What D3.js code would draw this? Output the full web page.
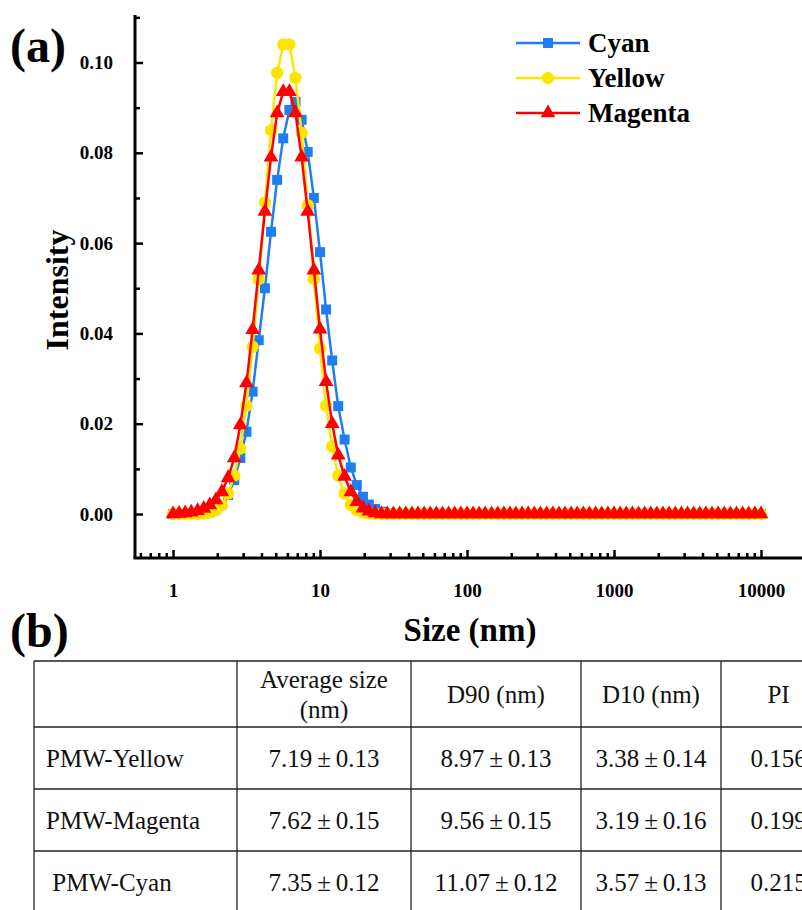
<!DOCTYPE html>
<html lang="en">
<head>
<meta charset="UTF-8">
<title>Size distribution (a) and table (b)</title>
<style>
    body { margin: 0; background: #fff; }
    svg { display: block; }
    .serif { font-family: "Liberation Serif", "Times New Roman", serif; }
    .bold { font-weight: bold; }
</style>
</head>
<body>
<svg id="chart" width="802" height="910"></svg>
<script src="https://d3js.org/d3.v7.min.js"></script>
<script>
// sizes (nm), instrument bins, 24 per decade
var sizes = [
    1.00, 1.10, 1.21, 1.33, 1.47, 1.62, 1.78, 1.96, 2.15, 2.37, 2.61, 2.87, 3.16, 3.48, 3.83, 4.22, 4.64, 5.11, 5.62, 6.19, 6.81, 7.50, 8.25, 9.09,
    10.0, 11.0, 12.1, 13.3, 14.7, 16.2, 17.8, 19.6, 21.5, 23.7, 26.1, 28.7, 31.6, 34.8, 38.3, 42.2, 46.4, 51.1, 56.2, 61.9, 68.1, 75.0, 82.5, 90.9,
    100, 110, 121, 133, 147, 162, 178, 196, 215, 237, 261, 287, 316, 348, 383, 422, 464, 511, 562, 619, 681, 750, 825, 909,
    1000, 1101, 1212, 1334, 1468, 1616, 1778, 1957, 2154, 2371, 2610, 2873, 3162, 3481, 3831, 4217, 4642, 5109, 5623, 6190, 6813, 7499, 8254, 9085,
    10000
];

var cyanValues = [
    0, 0, 0, 0, 0, 0.0001, 0.0004, 0.0010, 0.0022, 0.0042, 0.0075, 0.0124,
    0.0182, 0.0271, 0.0385, 0.0500, 0.0625, 0.0740, 0.0832, 0.0895, 0.0913, 0.0873, 0.0802, 0.0700,
    0.0580, 0.0453, 0.0340, 0.0239, 0.0165, 0.0103, 0.0064, 0.0038, 0.0021, 0.0011, 0.0005, 0.0002,
    0, 0, 0, 0, 0, 0, 0, 0, 0, 0, 0, 0,
    0, 0, 0, 0, 0, 0, 0, 0, 0, 0, 0, 0,
    0, 0, 0, 0, 0, 0, 0, 0, 0, 0, 0, 0,
    0, 0, 0, 0, 0, 0, 0, 0, 0, 0, 0, 0,
    0, 0, 0, 0, 0, 0, 0, 0, 0, 0, 0, 0,
    0
];

var yellowValues = [
    0, 0, 0, 0, 0, 0.0001, 0.0003, 0.0008, 0.0020, 0.0045, 0.0085, 0.0145,
    0.0240, 0.0370, 0.0520, 0.0690, 0.0850, 0.0977, 0.1040, 0.1040, 0.0966, 0.0844, 0.0684, 0.0520,
    0.0367, 0.0240, 0.0149, 0.0085, 0.0045, 0.0020, 0.0008, 0.0003, 0.0001, 0, 0, 0,
    0, 0, 0, 0, 0, 0, 0, 0, 0, 0, 0, 0,
    0, 0, 0, 0, 0, 0, 0, 0, 0, 0, 0, 0,
    0, 0, 0, 0, 0, 0, 0, 0, 0, 0, 0, 0,
    0, 0, 0, 0, 0, 0, 0, 0, 0, 0, 0, 0,
    0, 0, 0, 0, 0, 0, 0, 0, 0, 0, 0, 0,
    0
];

var magentaValues = [
    0, 0.0001, 0.0002, 0.0004, 0.0007, 0.0012, 0.0020, 0.0031, 0.0049, 0.0080, 0.0124, 0.0197,
    0.0290, 0.0408, 0.0540, 0.0670, 0.0790, 0.0888, 0.0935, 0.0935, 0.0888, 0.0790, 0.0670, 0.0540,
    0.0409, 0.0293, 0.0200, 0.0130, 0.0083, 0.0049, 0.0027, 0.0013, 0.0006, 0.0002, 0, 0,
    0, 0, 0, 0, 0, 0, 0, 0, 0, 0, 0, 0,
    0, 0, 0, 0, 0, 0, 0, 0, 0, 0, 0, 0,
    0, 0, 0, 0, 0, 0, 0, 0, 0, 0, 0, 0,
    0, 0, 0, 0, 0, 0, 0, 0, 0, 0, 0, 0,
    0, 0, 0, 0, 0, 0, 0, 0, 0, 0, 0, 0,
    0
];

var seriesNames = ['Cyan', 'Yellow', 'Magenta'];
var seriesColors = ['#1f7ff2', '#ffe400', '#ff0000'];
var seriesSymbols = [d3.symbolSquare, d3.symbolCircle, d3.symbolTriangle];
var seriesSymbolSizes = [100, 120, 95];

var yMajorTicks = [0, 0.02, 0.04, 0.06, 0.08, 0.10];
var yMinorTicks = [0.01, 0.03, 0.05, 0.07, 0.09, 0.11];
var xMajorTicks = [1, 10, 100, 1000, 10000];
var xMinorTicks = [0.6, 0.7, 0.8, 0.9,
    2, 3, 4, 5, 6, 7, 8, 9,
    20, 30, 40, 50, 60, 70, 80, 90,
    200, 300, 400, 500, 600, 700, 800, 900,
    2000, 3000, 4000, 5000, 6000, 7000, 8000, 9000];

// table (b)
var tableHeader = ['', 'Average size|(nm)', 'D90 (nm)', 'D10 (nm)', 'PI'];
var tableSamples = ['PMW-Yellow', 'PMW-Magenta', ' PMW-Cyan'];
var tableAverage = ['7.19±0.13', '7.62±0.15', '7.35±0.12'];
var tableD90 = ['8.97±0.13', '9.56±0.15', '11.07±0.12'];
var tableD10 = ['3.38±0.14', '3.19±0.16', '3.57±0.13'];
var tablePI = ['0.156', '0.199', '0.215'];

var svg = d3.select('#chart');

// scales
var axisX = 135, axisY = 558, axisRight = 802;
var yMin = -0.00975, yMax = 0.1105;
var xScale = d3.scaleLog().domain([1, 10000]).range([173, 761]);
var yScale = d3.scaleLinear().domain([0, 0.10]).range([514, 62.5]);

// axes
var xMajor = svg.append('g').attr('transform', `translate(0, ${axisY})`)
    .call(d3.axisBottom(xScale).tickValues(xMajorTicks).tickSize(-8).tickPadding(32).tickFormat(d3.format('d')));
var xMinor = svg.append('g').attr('transform', `translate(0, ${axisY})`)
    .call(d3.axisBottom(xScale).tickValues(xMinorTicks).tickSize(-5).tickFormat(''));
var yMajor = svg.append('g').attr('transform', `translate(${axisX}, 0)`)
    .call(d3.axisLeft(yScale).tickValues(yMajorTicks).tickSize(-8).tickPadding(22).tickFormat(d3.format('.2f')));
var yMinor = svg.append('g').attr('transform', `translate(${axisX}, 0)`)
    .call(d3.axisLeft(yScale).tickValues(yMinorTicks).tickSize(-5).tickFormat(''));

[xMajor, xMinor, yMajor, yMinor].forEach(function (g) {
    g.select('.domain').remove();
    g.selectAll('line').attr('stroke', '#000').attr('stroke-width', 2.5);
    g.selectAll('text')
        .attr('class', 'serif bold')
        .attr('fill', '#000')
        .style('font-size', '19px');
});
xMajor.selectAll('text').attr('dy', '0.35em');

svg.append('line')
    .attr('x1', axisX).attr('x2', axisX)
    .attr('y1', yScale(yMin)).attr('y2', yScale(yMax))
    .attr('stroke', '#000').attr('stroke-width', 3);
svg.append('line')
    .attr('x1', axisX - 1.5).attr('x2', axisRight)
    .attr('y1', axisY).attr('y2', axisY)
    .attr('stroke', '#000').attr('stroke-width', 3);

// series: cyan first, magenta on top
var allValues = [cyanValues, yellowValues, magentaValues];
var line = d3.line()
    .x(function (d, i) { return xScale(sizes[i]); })
    .y(function (d) { return yScale(d); });

allValues.forEach(function (values, s) {
    var g = svg.append('g').attr('class', 'series');
    g.append('path')
        .datum(values)
        .attr('d', line)
        .attr('fill', 'none')
        .attr('stroke', seriesColors[s])
        .attr('stroke-width', 2.5);
    g.selectAll('path.marker')
        .data(values)
        .enter()
        .append('path')
        .attr('class', 'marker')
        .attr('transform', function (d, i) { return `translate(${xScale(sizes[i])}, ${yScale(d)})`; })
        .attr('d', d3.symbol().type(seriesSymbols[s]).size(seriesSymbolSizes[s]))
        .attr('fill', seriesColors[s]);
});

// legend
var legend = svg.selectAll('.legend-item')
    .data(seriesNames)
    .enter()
    .append('g')
    .attr('class', 'legend-item')
    .attr('transform', function (d, i) { return `translate(516, ${43 + i * 35})`; });
legend.append('line')
    .attr('x1', 0).attr('x2', 64)
    .attr('stroke', function (d, i) { return seriesColors[i]; })
    .attr('stroke-width', 2.5);
legend.append('path')
    .attr('transform', 'translate(32, 0)')
    .attr('d', function (d, i) { return d3.symbol().type(seriesSymbols[i]).size(seriesSymbolSizes[i])(); })
    .attr('fill', function (d, i) { return seriesColors[i]; });
legend.append('text')
    .attr('class', 'serif bold')
    .attr('x', 72)
    .attr('y', 9)
    .style('font-size', '27px')
    .text(function (d) { return d; });

// axis titles and panel labels
svg.append('text')
    .attr('class', 'serif bold')
    .attr('transform', 'translate(68, 290) rotate(-90)')
    .attr('text-anchor', 'middle')
    .style('font-size', '32px')
    .text('Intensity');
svg.append('text')
    .attr('class', 'serif bold')
    .attr('x', 470).attr('y', 641)
    .attr('text-anchor', 'middle')
    .style('font-size', '33px')
    .text('Size (nm)');
svg.append('text')
    .attr('class', 'serif bold')
    .attr('x', 10).attr('y', 62)
    .style('font-size', '48px')
    .text('(a)');
svg.append('text')
    .attr('class', 'serif bold')
    .attr('x', 10).attr('y', 647)
    .style('font-size', '48px')
    .text('(b)');

// table
var colEdges = [34, 237, 411, 581, 721, 836];
var rowEdges = [661, 727, 789, 851, 913];
var tg = svg.append('g').attr('class', 'table');
colEdges.forEach(function (x) {
    tg.append('line').attr('x1', x).attr('x2', x)
        .attr('y1', rowEdges[0]).attr('y2', rowEdges[rowEdges.length - 1])
        .attr('stroke', '#222').attr('stroke-width', 1.3);
});
rowEdges.forEach(function (y) {
    tg.append('line').attr('x1', colEdges[0]).attr('x2', colEdges[colEdges.length - 1])
        .attr('y1', y).attr('y2', y)
        .attr('stroke', '#222').attr('stroke-width', 1.3);
});

function cellText(text, col, row, anchor) {
    var lines = text.split('|');
    var cx = anchor === 'start' ? colEdges[col] + 12 : (colEdges[col] + colEdges[col + 1]) / 2;
    var cy = (rowEdges[row] + rowEdges[row + 1]) / 2;
    lines.forEach(function (t, k) {
        tg.append('text')
            .attr('class', 'serif')
            .attr('x', cx)
            .attr('y', cy + (k - (lines.length - 1) / 2) * 30)
            .attr('dy', '0.35em')
            .attr('text-anchor', anchor)
            .attr('xml:space', 'preserve')
            .style('white-space', 'pre')
            .style('font-size', '25px')
            .attr('fill', '#111')
            .text(t.replace('±', '\u2009±\u2009'));
    });
}

tableHeader.forEach(function (h, c) { if (h) cellText(h, c, 0, 'middle'); });
tableSamples.forEach(function (name, r) {
    cellText(name, 0, r + 1, 'start');
    cellText(tableAverage[r], 1, r + 1, 'middle');
    cellText(tableD90[r], 2, r + 1, 'middle');
    cellText(tableD10[r], 3, r + 1, 'middle');
    cellText(tablePI[r], 4, r + 1, 'middle');
});
</script>
</body>
</html>
